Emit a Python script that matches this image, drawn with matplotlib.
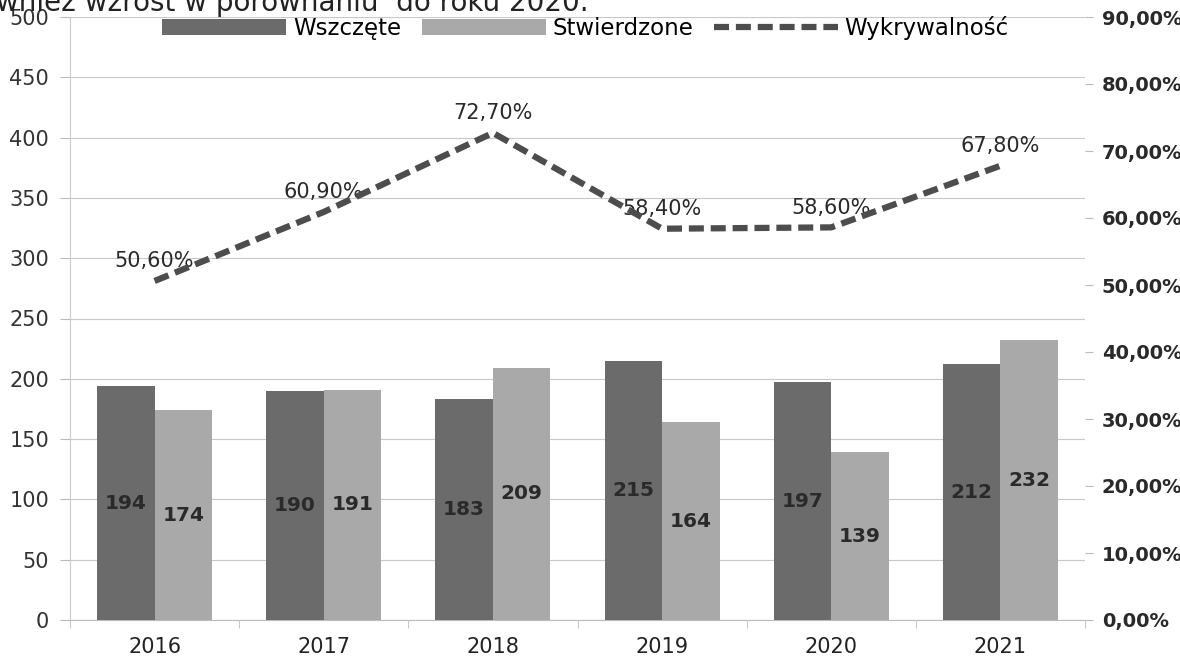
import matplotlib.pyplot as plt
import numpy as np

years = ["2016", "2017", "2018", "2019", "2020", "2021"]
wszczete = [194, 190, 183, 215, 197, 212]
stwierdzone = [174, 191, 209, 164, 139, 232]
wykrywalnosc = [50.6, 60.9, 72.7, 58.4, 58.6, 67.8]

DARK = "#6b6b6b"
LIGHT = "#a9a9a9"
LINE = "#4d4d4d"

fig = plt.figure(figsize=(11.8, 6.68), dpi=100)
ax = fig.add_axes([70 / 1180, 1 - 620 / 668, 1015 / 1180, 603 / 668])
ax2 = ax.twinx()

x = np.arange(len(years))
w = 0.34
b1 = ax.bar(x - w / 2, wszczete, w, color=DARK, label="Wszczęte", zorder=3)
b2 = ax.bar(x + w / 2, stwierdzone, w, color=LIGHT, label="Stwierdzone", zorder=3)

for rect, v in list(zip(b1, wszczete)) + list(zip(b2, stwierdzone)):
    ax.text(rect.get_x() + rect.get_width() / 2, v / 2, str(v),
            ha="center", va="center", fontsize=14.5, fontweight="bold", color="#2a2a2a", zorder=5)

ln, = ax2.plot(x, wykrywalnosc, color=LINE, lw=4.5, dashes=(2.4, 1.1),
               label="Wykrywalność", zorder=4)
for xi, v in zip(x, wykrywalnosc):
    ax2.annotate(f"{v:.2f}%".replace(".", ","), (xi, v), xytext=(0, 7),
                 textcoords="offset points", ha="center", va="bottom",
                 fontsize=15, color="#2a2a2a")

ax.set_xlim(-0.5, len(years) - 0.5)
ax.set_ylim(0, 500)
ax.set_yticks(range(0, 501, 50))
ax2.set_ylim(0, 90)
ax2.set_yticks(range(0, 91, 10))
ax2.set_yticklabels([f"{t},00%" for t in range(0, 91, 10)], fontweight="bold")

ax.set_xticks(x)
ax.set_xticklabels(years)
ax.set_xticks(np.arange(-0.5, len(years), 1), minor=True)
ax.tick_params(axis="x", which="major", length=0, pad=12, labelsize=15, labelcolor="#222222")
ax.tick_params(axis="x", which="minor", length=6, color="#bbbbbb")
ax.tick_params(axis="y", length=7, color="#bbbbbb", labelsize=15, labelcolor="#333333", pad=8)
ax2.tick_params(axis="y", length=6, color="#bbbbbb", labelsize=14, labelcolor="#2a2a2a", pad=6)

ax.yaxis.grid(True, color="#c8c8c8", lw=0.8, zorder=0)
for a in (ax, ax2):
    for s in a.spines.values():
        s.set_visible(False)
ax.spines["left"].set_visible(True)
ax.spines["left"].set_color("#cccccc")
ax.spines["left"].set_linestyle((0, (2, 1)))
ax.spines["bottom"].set_visible(True)
ax.spines["bottom"].set_color("#bbbbbb")

ax.legend(handles=[b1, b2, ln], loc="center", bbox_to_anchor=(0.508, 1 - 11 / 603),
          ncol=3, frameon=False, fontsize=16.5, handlelength=5.4, handleheight=0.75,
          columnspacing=0.9, handletextpad=0.3, borderaxespad=0.0, borderpad=0.0)

fig.text(-0.003, 1 - 11 / 668, "wnież wzrost w porównaniu  do roku 2020.",
         fontsize=20, va="baseline", ha="left", color="#222222")

fig.savefig("out.png", dpi=100)
